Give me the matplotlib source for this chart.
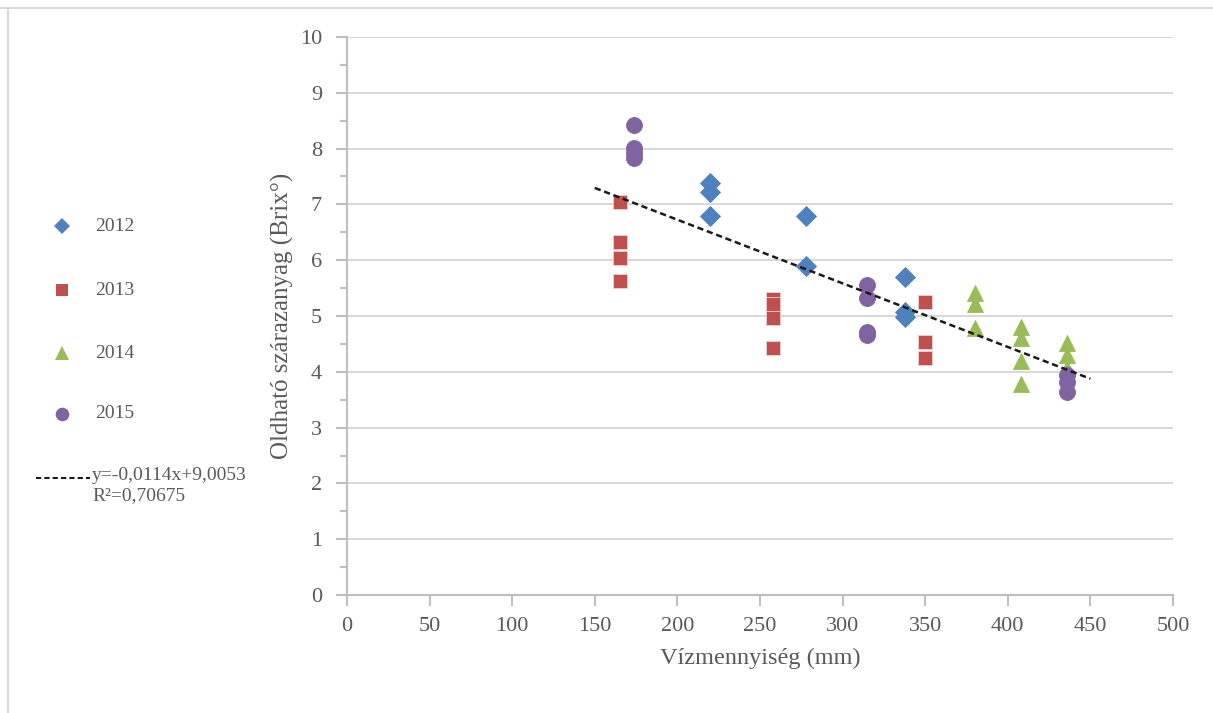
import matplotlib
matplotlib.use("Agg")
import matplotlib.pyplot as plt
from matplotlib.lines import Line2D
import numpy as np

plt.rcParams['font.family'] = ['Liberation Serif', 'DejaVu Serif']

# Data
x2012 = [220, 220, 220, 278, 278, 338, 338, 338]
y2012 = [7.38, 7.22, 6.80, 6.80, 5.90, 5.70, 5.08, 4.99]
x2013 = [165, 165, 165, 165, 258, 258, 258, 258, 350, 350, 350]
y2013 = [7.04, 6.33, 6.04, 5.62, 5.31, 5.22, 4.96, 4.43, 5.25, 4.54, 4.24]
x2014 = [380, 380, 380, 408, 408, 408, 408, 436, 436, 436]
y2014 = [5.41, 5.21, 4.79, 4.81, 4.60, 4.19, 3.79, 4.51, 4.30, 4.07]
x2015 = [174, 174, 174, 174, 315, 315, 315, 315, 436, 436, 436]
y2015 = [8.43, 8.01, 7.92, 7.83, 5.56, 5.33, 4.72, 4.66, 3.94, 3.82, 3.64]
slope, intercept = -0.0114, 9.0053
trend_x = [150, 450]
eq_label = "y=-0,0114x+9,0053\nR²=0,70675"

xticks = [0, 50, 100, 150, 200, 250, 300, 350, 400, 450, 500]
yticks = list(range(0, 11))

W, H = 1213, 713
fig = plt.figure(figsize=(W/100, H/100), dpi=100)
ax = fig.add_axes([347/W, 1-595/H, (1173-347)/W, (595-37)/H])

grid_c = '#d9d9d9'
axis_c = '#bfbfbf'
txt_c = '#595959'

series = [
    (x2012, y2012, 'D', '#4F81BD', 10, '2012'),
    (x2013, y2013, 's', '#C0504D', 10, '2013'),
    (x2014, y2014, '^', '#9BBB59', 12, '2014'),
    (x2015, y2015, 'o', '#8064A2', 11.5, '2015'),
]
for xs, ys, m, c, ms, lab in series:
    ax.plot(xs, ys, linestyle='none', marker=m, color=c, markersize=ms,
            markeredgewidth=0.6, markeredgecolor='#f0d0d0' if m == 's' else c,
            zorder=3)

tx = np.array(trend_x, dtype=float)
ax.plot(tx, slope*tx + intercept, color='#1a1a1a', linestyle=(0, (2.5, 1.5)),
        linewidth=1.8, zorder=4)

ax.set_xlim(0, 500)
ax.set_ylim(0, 10)
ax.set_xticks(xticks)
ax.set_yticks(yticks)
ax.set_yticks(np.arange(0.5, 10, 1.0), minor=True)
ax.yaxis.grid(True, color=grid_c, linewidth=1.5)
ax.set_axisbelow(True)
for s in ['top', 'right']:
    ax.spines[s].set_visible(False)
for s in ['left', 'bottom']:
    ax.spines[s].set_color(axis_c)
    ax.spines[s].set_linewidth(1.5)
ax.tick_params(axis='both', which='both', direction='out', color=axis_c,
               width=1.5, labelcolor=txt_c, labelsize=16)
ax.tick_params(axis='y', which='major', length=8, pad=10)
ax.tick_params(axis='y', which='minor', length=5)
ax.tick_params(axis='x', which='major', length=8, pad=8)

ax.set_xlabel('Vízmennyiség (mm)', fontsize=17.5, color=txt_c, labelpad=8)
ax.set_ylabel('Oldható szárazanyag (Brix°)', fontsize=18, color=txt_c, labelpad=4)

# Legend drawn manually on the left
leg_y = [226, 290, 353, 414]
for (xs, ys, m, c, ms, lab), py in zip(series, leg_y):
    fig.lines.append(Line2D([62/W], [1-py/H], marker=m, color=c, markersize=ms*0.85,
                            markeredgewidth=0, linestyle='none', transform=fig.transFigure))
    fig.text(95/W, 1-py/H, lab, fontsize=14, color=txt_c, va='center', ha='left')
fig.lines.append(Line2D([36/W, 90/W], [1-478/H, 1-478/H], color='#1a1a1a',
                        linestyle=(0, (2.5, 1.5)), linewidth=1.5, transform=fig.transFigure))
fig.text(92/W, 1-467/H, eq_label, fontsize=14, color=txt_c, va='top', ha='left',
         linespacing=1.2)

# chart frame lines
fig.lines.append(Line2D([0, 1], [1-8/H, 1-8/H], color='#d9d9d9', linewidth=1.5,
                        transform=fig.transFigure))
fig.lines.append(Line2D([8/W, 8/W], [0, 1-8/H], color='#d9d9d9', linewidth=1.5,
                        transform=fig.transFigure))

fig.savefig('out.png', dpi=100)
